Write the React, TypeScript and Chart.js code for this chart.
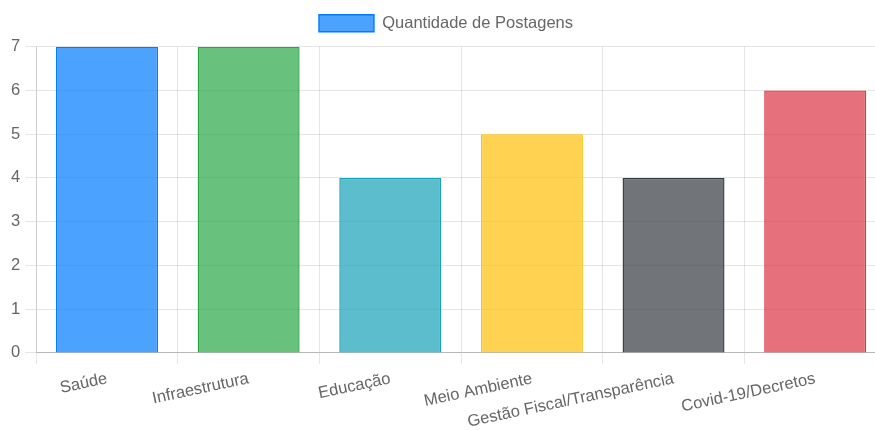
import React, { useEffect, useRef } from "react";
import { Chart, registerables } from "chart.js";

Chart.register(...registerables);

const categories = [
  "Saúde",
  "Infraestrutura",
  "Educação",
  "Meio Ambiente",
  "Gestão Fiscal/Transparência",
  "Covid-19/Decretos",
];
const postCounts = [7, 7, 4, 5, 4, 6];
const fillColors = [
  "rgba(0,123,255,0.7)",
  "rgba(40,167,69,0.7)",
  "rgba(23,162,184,0.7)",
  "rgba(255,193,7,0.7)",
  "rgba(52,58,64,0.7)",
  "rgba(220,53,69,0.7)",
];
const borderColors = ["#007bff", "#28a745", "#17a2b8", "#ffc107", "#343a40", "#dc3545"];
const seriesLabel = "Quantidade de Postagens";

const legendGap = {
  id: "legendGap",
  beforeInit(chart: any) {
    const lg = chart.legend;
    if (!lg) return;
    const orig = lg.fit;
    lg.fit = function () {
      orig.call(this);
      this.height += 5;
    };
  },
};

export default function App() {
  const ref = useRef<HTMLCanvasElement | null>(null);
  useEffect(() => {
    if (!ref.current) return;
    const font = { family: "Arial, 'Liberation Sans', sans-serif", size: 16.5 };
    const chart = new Chart(ref.current, {
      type: "bar",
      data: {
        labels: categories,
        datasets: [
          {
            label: seriesLabel,
            data: postCounts,
            backgroundColor: fillColors,
            borderColor: borderColors,
            borderWidth: 1.4,
          },
        ],
      },
      plugins: [legendGap],
      options: {
        animation: false,
        responsive: true,
        maintainAspectRatio: false,
        layout: { padding: { left: 6, right: 8, top: 1, bottom: 0 } },
        plugins: {
          legend: {
            labels: {
              font,
              color: "#666",
              boxWidth: 55,
              boxHeight: 17,
              padding: 13.7,
            },
          },
          tooltip: { enabled: false },
        },
        scales: {
          x: {
            ticks: { font, color: "#666", minRotation: 12, maxRotation: 12, padding: 5 },
            grid: { color: "rgba(0,0,0,0.1)", tickLength: 11, offset: true },
            border: { color: "rgba(0,0,0,0.2)" },
          },
          y: {
            min: 0,
            max: 7,
            ticks: { font, color: "#666", stepSize: 1, padding: 5 },
            grid: { color: "rgba(0,0,0,0.1)", tickLength: 11 },
            border: { color: "rgba(0,0,0,0.1)" },
          },
        },
      },
    });
    return () => chart.destroy();
  }, []);
  return (
    <div style={{ position: "fixed", left: 0, top: 0, width: 894, height: 437 }}>
      <canvas ref={ref} />
    </div>
  );
}
